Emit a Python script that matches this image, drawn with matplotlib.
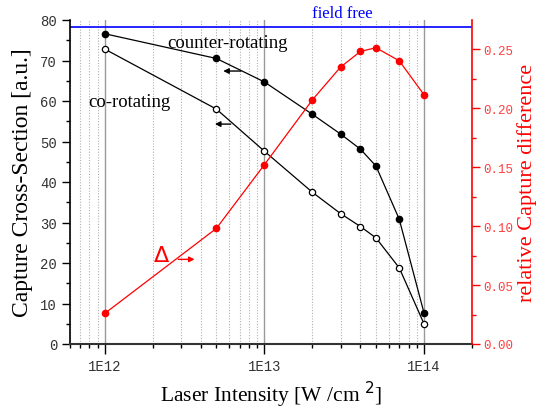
import numpy as np
import matplotlib
matplotlib.use('Agg')
import matplotlib.pyplot as plt
from matplotlib.ticker import LogLocator, MultipleLocator, FixedLocator, NullFormatter

# data
intensity = [1e12, 5e12, 1e13, 2e13, 3e13, 4e13, 5e13, 7e13, 1e14]
counter_rot = [76.6, 70.5, 64.7, 56.7, 51.85, 48.1, 43.95, 30.8, 7.7]
co_rot = [72.8, 58.0, 47.6, 37.45, 32.2, 29.0, 26.2, 18.8, 5.0]
rel_diff = [0.026, 0.098, 0.152, 0.207, 0.2347, 0.248, 0.2511, 0.240, 0.2113]
field_free = 78.3
x_ticks = [1e12, 1e13, 1e14]
x_ticklabels = ['1E12', '1E13', '1E14']

serif = 'Liberation Serif'
mono = 'Liberation Mono'
tickgrey = '#333333'

fig = plt.figure(figsize=(5.38, 4.14), dpi=100)
ax = fig.add_axes([69.5/538, 69/414, (472-69.5)/538, 324/414])
ax2 = ax.twinx()

ax.set_xscale('log')
ax.set_xlim(6e11, 2e14)
ax.set_ylim(0, 80)

# vertical grid
ax.xaxis.set_major_locator(FixedLocator(x_ticks))
ax.xaxis.set_minor_locator(LogLocator(base=10, subs=np.arange(2, 10), numticks=20))
ax.xaxis.set_minor_formatter(NullFormatter())
ax.set_xticklabels(x_ticklabels, fontfamily=mono, fontsize=10, color=tickgrey)
ax.grid(True, which='major', axis='x', color='#999999', lw=1.0, ls='-')
ax.grid(True, which='minor', axis='x', color='#b0b0b0', lw=0.8, ls=(0, (1, 1.5)))
ax.set_axisbelow(True)

ax.yaxis.set_major_locator(MultipleLocator(10))
ax.yaxis.set_minor_locator(MultipleLocator(5))
for lbl in ax.get_yticklabels():
    lbl.set_fontfamily(mono)
    lbl.set_fontsize(10)
    lbl.set_color(tickgrey)

r_ticks = [0.0, 0.05, 0.10, 0.15, 0.20, 0.25]
ax2.set_yticks(r_ticks)
ax2.set_yticklabels(['%.2f' % v for v in r_ticks], fontfamily=mono, fontsize=9, color='#ff4040')
ax2.yaxis.set_minor_locator(MultipleLocator(0.025))
ax2.set_ylim(0, 0.2746)

for a in (ax, ax2):
    a.spines['top'].set_visible(False)
ax.spines['right'].set_visible(False)
ax2.spines['left'].set_visible(False)
ax2.spines['bottom'].set_visible(False)
ax2.spines['right'].set_color('red')
ax.spines['left'].set_linewidth(1.2)
ax.spines['bottom'].set_linewidth(1.5)
ax.spines['bottom'].set_color('#333333')
ax2.spines['right'].set_linewidth(1.2)

ax.tick_params(axis='both', which='major', direction='out', length=6, width=1, color='black')
ax.tick_params(axis='both', which='minor', direction='out', length=3, width=1, color='black')
ax.tick_params(axis='x', which='major', length=7, pad=4)
ax.tick_params(axis='y', which='major', length=6, pad=3)
ax2.tick_params(axis='y', which='major', direction='out', length=6, width=1, color='red', pad=2)
ax2.tick_params(axis='y', which='minor', direction='out', length=3, width=1, color='red')

# data
ax.axhline(field_free, color='blue', lw=1.2)
ax.plot(intensity, counter_rot, '-o', color='black', lw=0.9, ms=4.5, mfc='black', zorder=3)
ax.plot(intensity, co_rot, '-o', color='black', lw=0.9, ms=4.5, mfc='white', mew=0.9, zorder=3)
ax2.plot(intensity, rel_diff, '-o', color='red', lw=0.9, ms=4.5, mfc='red', zorder=3)

ax.set_xlabel('Laser Intensity [W /cm $^{2}$]', fontfamily=serif, fontsize=15.5, labelpad=4)
ax.set_ylabel('Capture Cross-Section [a.u.]', fontfamily=serif, fontsize=17, labelpad=5)
ax2.set_ylabel('relative Capture difference', fontfamily=serif, fontsize=16, color='red', labelpad=3)

# annotations
ax.text(2.47e12, 74.4, 'counter-rotating', fontfamily=serif, fontsize=13.5, va='center', ha='left')
ax.text(7.9e11, 59.8, 'co-rotating', fontfamily=serif, fontsize=13.5, va='center', ha='left')
ax.annotate('', xy=(5.3e12, 67.4), xytext=(7.4e12, 67.4),
            arrowprops=dict(arrowstyle='-|>', color='black', lw=1, mutation_scale=8))
ax.annotate('', xy=(4.7e12, 54.3), xytext=(6.4e12, 54.3),
            arrowprops=dict(arrowstyle='-|>', color='black', lw=1, mutation_scale=8))
ax.text(2.26e12, 21.9, '$\\Delta$', color='red', fontsize=16, va='center', ha='center')
ax.annotate('', xy=(3.8e12, 20.9), xytext=(2.77e12, 20.9),
            arrowprops=dict(arrowstyle='-|>', color='red', lw=1, mutation_scale=8))
ax.text(3.09e13, 81.7, 'field free', fontfamily=serif, fontsize=12, color='blue',
        va='center', ha='center', clip_on=False)

fig.savefig('out.png', dpi=100)
